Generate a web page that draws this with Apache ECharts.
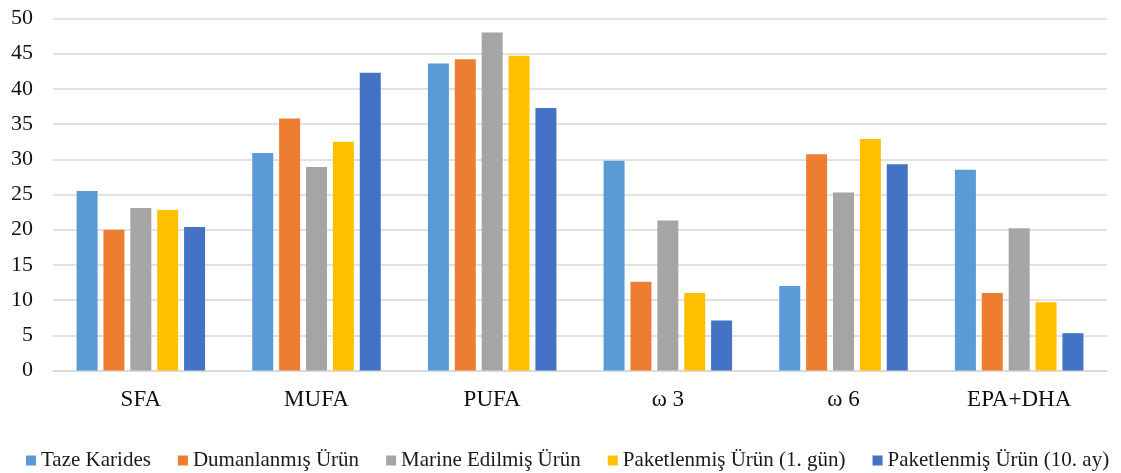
<!DOCTYPE html>
<html>
<head>
<meta charset="utf-8">
<script src="https://cdn.jsdelivr.net/npm/echarts@6/dist/echarts.min.js"></script>
<style>
  html, body { margin: 0; padding: 0; background: #fff; }
  #chart { width: 1121px; height: 473px; }
</style>
</head>
<body>
<div id="chart"></div>
<script>
// Fatty acid groups on the x axis
const categories = ['SFA', 'MUFA', 'PUFA', 'ω 3', 'ω 6', 'EPA+DHA'];

// One array per product type (values in %)
const tazeKarides      = [25.5, 30.9, 43.6, 29.8, 12.0, 28.5];
const dumanlanmisUrun  = [20.0, 35.8, 44.2, 12.6, 30.7, 11.0];
const marineEdilmis    = [23.1, 28.9, 48.0, 21.3, 25.3, 20.2];
const paketlenmis1Gun  = [22.8, 32.5, 44.7, 11.0, 32.9, 9.7];
const paketlenmis10Ay  = [20.4, 42.3, 37.3, 7.1, 29.3, 5.3];

const seriesNames = [
  'Taze Karides',
  'Dumanlanmış Ürün',
  'Marine Edilmiş Ürün',
  'Paketlenmiş Ürün (1. gün)',
  'Paketlenmiş Ürün (10. ay)'
];
const seriesData = [tazeKarides, dumanlanmisUrun, marineEdilmis, paketlenmis1Gun, paketlenmis10Ay];
const colors = ['#5B9BD5', '#ED7D31', '#A5A5A5', '#FFC000', '#4472C4'];

const serif = 'Liberation Serif';

const chart = echarts.init(document.getElementById('chart'), null, { renderer: 'canvas' });

chart.setOption({
  animation: false,
  color: colors,
  textStyle: { fontFamily: serif },
  grid: { left: 53, right: 14, top: 18.5, bottom: 102.5, containLabel: false },
  legend: {
    top: 445,
    left: 21,
    itemWidth: 10,
    itemHeight: 10,
    itemGap: 27,
    icon: 'rect',
    textStyle: { fontFamily: serif, fontSize: 21, color: '#1a1a1a' },
    data: seriesNames
  },
  xAxis: {
    type: 'category',
    data: categories,
    axisLine: { show: true, lineStyle: { color: '#D9D9D9', width: 1.5 } },
    axisTick: { show: false },
    axisLabel: { fontFamily: serif, fontSize: 23, color: '#111', margin: 18 }
  },
  yAxis: {
    type: 'value',
    min: 0,
    max: 50,
    interval: 5,
    axisLine: { show: false },
    axisTick: { show: false },
    splitLine: { lineStyle: { color: '#D9D9D9', width: 1.5 } },
    axisLabel: { fontFamily: serif, fontSize: 22, color: '#111', margin: 20 }
  },
  series: seriesNames.map((name, i) => ({
    name: name,
    type: 'bar',
    data: seriesData[i],
    barWidth: 21,
    barGap: '28%',
    itemStyle: { color: colors[i] }
  }))
});
</script>
</body>
</html>
